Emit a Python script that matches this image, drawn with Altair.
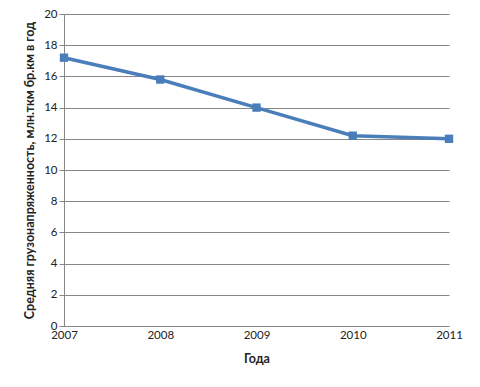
import altair as alt
import pandas as pd

years = [2007, 2008, 2009, 2010, 2011]
values = [17.2, 15.8, 14.0, 12.2, 12.0]

df = pd.DataFrame({"year": years, "value": values})

color = "#4A7EBB"
grid = "#868686"

base = alt.Chart(df).encode(
    x=alt.X("year:Q",
            scale=alt.Scale(domain=[2007, 2011], nice=False, zero=False),
            axis=alt.Axis(title="Года", values=years, format="d", grid=False,
                          ticks=False, domainColor=grid, labelFont="Lato",
                          labelFontSize=11.5, labelColor="#222", labelPadding=3,
                          titleFont="Lato", titleFontSize=12.5, titleFontWeight="bold",
                          titleColor="#222", titlePadding=12, labelFlush=False)),
    y=alt.Y("value:Q",
            scale=alt.Scale(domain=[0, 20], nice=False),
            axis=alt.Axis(title="Средняя грузонапряженность, млн.ткм бр.км в год",
                          values=list(range(0, 21, 2)), gridColor=grid, domainColor=grid,
                          tickColor=grid, tickSize=5, labelFont="Lato", labelFontSize=11.5,
                          labelColor="#222", labelPadding=2, titleFont="Lato",
                          titleFontSize=12.5, titleFontWeight="bold", titleColor="#222",
                          titlePadding=7)),
)

line = base.mark_line(color=color, strokeWidth=3.5)
pts = base.mark_square(color=color, size=70, opacity=1)

chart = (line + pts).properties(
    width=385, height=312,
    autosize=alt.AutoSizeParams(type="none"),
    padding={"left": 56, "top": 6, "right": 16, "bottom": 45},
).configure_view(stroke=None).configure_axis(domainWidth=1, gridWidth=1)

chart.save("out.html", embed_options={"renderer": "svg", "actions": False})
